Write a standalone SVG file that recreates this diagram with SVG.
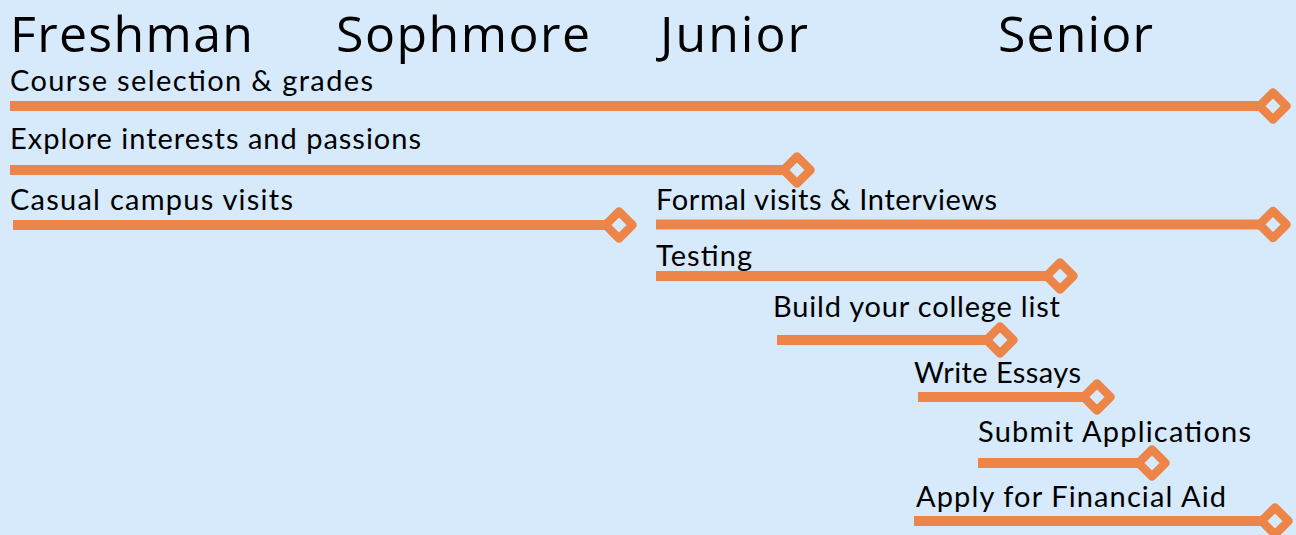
<svg xmlns="http://www.w3.org/2000/svg" xmlns:xlink="http://www.w3.org/1999/xlink" width="1296" height="535" viewBox="0 0 1296 535">
<defs>
<style>
.hdr{font-family:"Open Sans","Liberation Sans",sans-serif;font-size:50px;fill:#000}
.lbl{font-family:Lato,"Noto Sans","Liberation Sans",sans-serif;font-size:29px;fill:#000}
.bar{stroke:#EE8548;stroke-width:10;fill:none}
.dia{stroke:#EE8548;stroke-width:8.5;fill:#D6EAFC;stroke-linejoin:round}
</style>
<path id="d" d="M0,-13.5 L13.5,0 L0,13.5 L-13.5,0Z"/>
</defs>
<rect width="1296" height="535" fill="#D6EAFC"/>
<g id="headers">
<text class="hdr" x="10" y="52" textLength="243">Freshman</text>
<text class="hdr" x="336" y="52" textLength="254">Sophmore</text>
<text class="hdr" x="660" y="52" textLength="148">Junior</text>
<text class="hdr" x="998" y="52" textLength="155">Senior</text>
</g>
<g id="labels">
<text id="t1" class="lbl" x="10" y="91" textLength="363">Course selection &amp; grades</text>
<text id="t2" class="lbl" x="10" y="149" textLength="411">Explore interests and passions</text>
<text id="t3" class="lbl" x="10" y="210" textLength="283">Casual campus visits</text>
<text id="t4" class="lbl" x="656" y="210" textLength="341">Formal visits &amp; Interviews</text>
<text id="t5" class="lbl" x="656" y="266" textLength="96">Testing</text>
<text id="t6" class="lbl" x="773" y="317" textLength="287">Build your college list</text>
<text id="t7" class="lbl" x="914" y="383" textLength="167">Write Essays</text>
<text id="t8" class="lbl" x="978" y="442" textLength="273">Submit Applications</text>
<text id="t9" class="lbl" x="916" y="507" textLength="310">Apply for Financial Aid</text>
</g>
<g id="connectors">
<line class="bar" x1="10" y1="106" x2="1260" y2="106"/>
<line class="bar" x1="10" y1="170" x2="784" y2="170"/>
<line class="bar" x1="13" y1="225" x2="606" y2="225"/>
<line class="bar" x1="656" y1="224.5" x2="1260" y2="224.5"/>
<line class="bar" x1="656" y1="276" x2="1047" y2="276"/>
<line class="bar" x1="777" y1="340" x2="987" y2="340"/>
<line class="bar" x1="918" y1="397" x2="1084" y2="397"/>
<line class="bar" x1="978" y1="463" x2="1139" y2="463"/>
<line class="bar" x1="914" y1="521" x2="1262" y2="521"/>
</g>
<g id="markers">
<use id="m1" xlink:href="#d" class="dia" x="1273" y="106"/>
<use id="m2" xlink:href="#d" class="dia" x="797" y="170"/>
<use id="m3" xlink:href="#d" class="dia" x="619" y="225"/>
<use id="m4" xlink:href="#d" class="dia" x="1273" y="224.5"/>
<use id="m5" xlink:href="#d" class="dia" x="1060" y="276"/>
<use id="m6" xlink:href="#d" class="dia" x="1000" y="340"/>
<use id="m7" xlink:href="#d" class="dia" x="1097" y="397"/>
<use id="m8" xlink:href="#d" class="dia" x="1152" y="463"/>
<use id="m9" xlink:href="#d" class="dia" x="1275" y="521"/>
</g>
</svg>
